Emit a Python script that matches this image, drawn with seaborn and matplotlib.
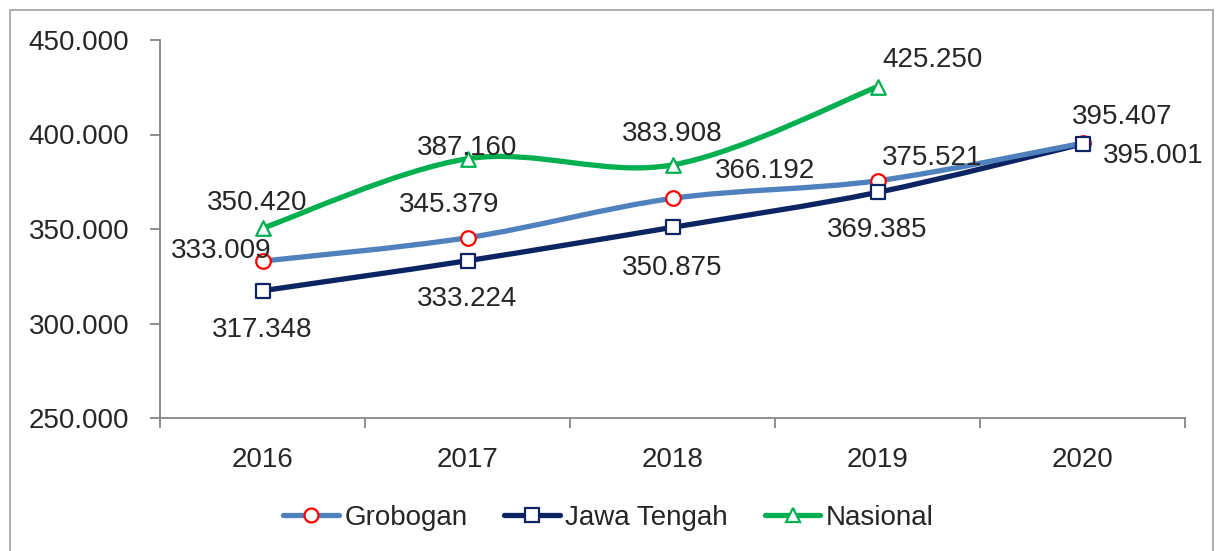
import numpy as np
import pandas as pd
import matplotlib
matplotlib.use("Agg")
import matplotlib.pyplot as plt
from matplotlib.path import Path
from matplotlib.patches import PathPatch, Rectangle
from matplotlib.lines import Line2D
import seaborn as sns

## data
years = ["2016", "2017", "2018", "2019", "2020"]
grobogan = [333.009, 345.379, 366.192, 375.521, 395.407]
jawa_tengah = [317.348, 333.224, 350.875, 369.385, 395.001]
nasional = [350.420, 387.160, 383.908, 425.250, np.nan]
yticks = [250, 300, 350, 400, 450]

sns.set_style("white")
plt.rcParams["font.family"] = ["Liberation Sans", "DejaVu Sans"]
plt.rcParams["font.size"] = 20

df = pd.DataFrame({"tahun": years, "Grobogan": grobogan,
                   "Jawa Tengah": jawa_tengah, "Nasional": nasional})
df["pos"] = np.arange(len(years))
long = df.melt(id_vars=["tahun", "pos"], var_name="wilayah", value_name="nilai").dropna()

colors = {"Grobogan": "#4F81BD", "Jawa Tengah": "#0D2463", "Nasional": "#00B050"}
edge = {"Grobogan": "#FF0000", "Jawa Tengah": "#0D2463", "Nasional": "#00B050"}
markers = {"Grobogan": "o", "Jawa Tengah": "s", "Nasional": "^"}

# label offsets in pixels (dx, dy), Excel-style placement
offsets = {
    "Grobogan": [(-41, 10), (-18, 33), (93, 27), (55, 23), (40, 26)],
    "Jawa Tengah": [(0, -39), (0, -38), (0, -41), (0, -38), (71, -12)],
    "Nasional": [(-5, 25), (0, 11), (0, 31), (55, 27), (0, 0)],
}


def smooth_path(xs, ys):
    # Excel-like smoothed line: cubic bezier through the points
    pts = np.column_stack([xs, ys])
    n = len(pts)
    verts = [pts[0]]
    codes = [Path.MOVETO]
    for i in range(n - 1):
        p0 = pts[max(i - 1, 0)]
        p1 = pts[i]
        p2 = pts[i + 1]
        p3 = pts[min(i + 2, n - 1)]
        c1 = p1 + (p2 - p0) / 6.0
        c2 = p2 - (p3 - p1) / 6.0
        verts += [c1, c2, p2]
        codes += [Path.CURVE4] * 3
    return Path(verts, codes)


fig = plt.figure(figsize=(12.17, 5.51), dpi=100)
ax = fig.add_axes([160 / 1217, 1 - 418 / 551, 1025 / 1217, 378 / 551])

for name in ["Jawa Tengah", "Grobogan", "Nasional"]:
    sub = long[long["wilayah"] == name]
    patch = PathPatch(smooth_path(sub["pos"].values, sub["nilai"].values),
                      facecolor="none", edgecolor=colors[name], lw=3.8,
                      capstyle="round", joinstyle="round", zorder=2)
    ax.add_patch(patch)

for name in ["Grobogan", "Jawa Tengah", "Nasional"]:
    sub = long[long["wilayah"] == name]
    sns.scatterplot(data=sub, x="pos", y="nilai", marker=markers[name], s=110,
                    facecolor="white", edgecolor=edge[name], linewidth=1.6,
                    zorder=3, ax=ax, legend=False)
    for (_, r), (dx, dy) in zip(sub.iterrows(), offsets[name]):
        ax.annotate(f"{r['nilai']:.3f}", (r["pos"], r["nilai"]),
                    xytext=(dx, dy), textcoords="offset pixels",
                    ha="center", va="center", fontsize=20, zorder=4)

ax.set_xlim(-0.5, len(years) - 0.5)
ax.set_ylim(250, 450)
ax.set_yticks(yticks)
ax.set_yticklabels([f"{v}.000" for v in yticks])
ax.set_xticks(df["pos"])
ax.set_xticklabels(years)
ax.set_xticks(np.arange(-0.5, len(years)), minor=True)
ax.set_xlabel("")
ax.set_ylabel("")

spine_col = "#868686"
for s in ["top", "right"]:
    ax.spines[s].set_visible(False)
for s in ["left", "bottom"]:
    ax.spines[s].set_color(spine_col)
    ax.spines[s].set_linewidth(1.3)
ax.tick_params(axis="y", which="major", length=7, width=1.3, color=spine_col,
               pad=15, left=True)
ax.tick_params(axis="x", which="major", length=0, pad=21)
ax.tick_params(axis="x", which="minor", length=7, width=1.3, color=spine_col,
               bottom=True)

handles = [Line2D([0], [0], color=colors[n], lw=3.8, solid_capstyle="round",
                  marker=markers[n], markersize=10, markerfacecolor="white",
                  markeredgecolor=edge[n], markeredgewidth=1.6)
           for n in ["Grobogan", "Jawa Tengah", "Nasional"]]
fig.legend(handles, ["Grobogan", "Jawa Tengah", "Nasional"], loc="center",
           bbox_to_anchor=(0.5, 1 - 518 / 551), ncol=3, frameon=False,
           fontsize=20, handlelength=2.0, handletextpad=0.2, columnspacing=1.33)

# chart area border (bottom edge falls outside the picture)
fig.add_artist(Rectangle((10 / 1217, -10 / 551), 1203 / 1217, 551 / 551,
                         transform=fig.transFigure, fill=False,
                         edgecolor="#A6A6A6", lw=1.3))

fig.savefig("out.png", dpi=100)
